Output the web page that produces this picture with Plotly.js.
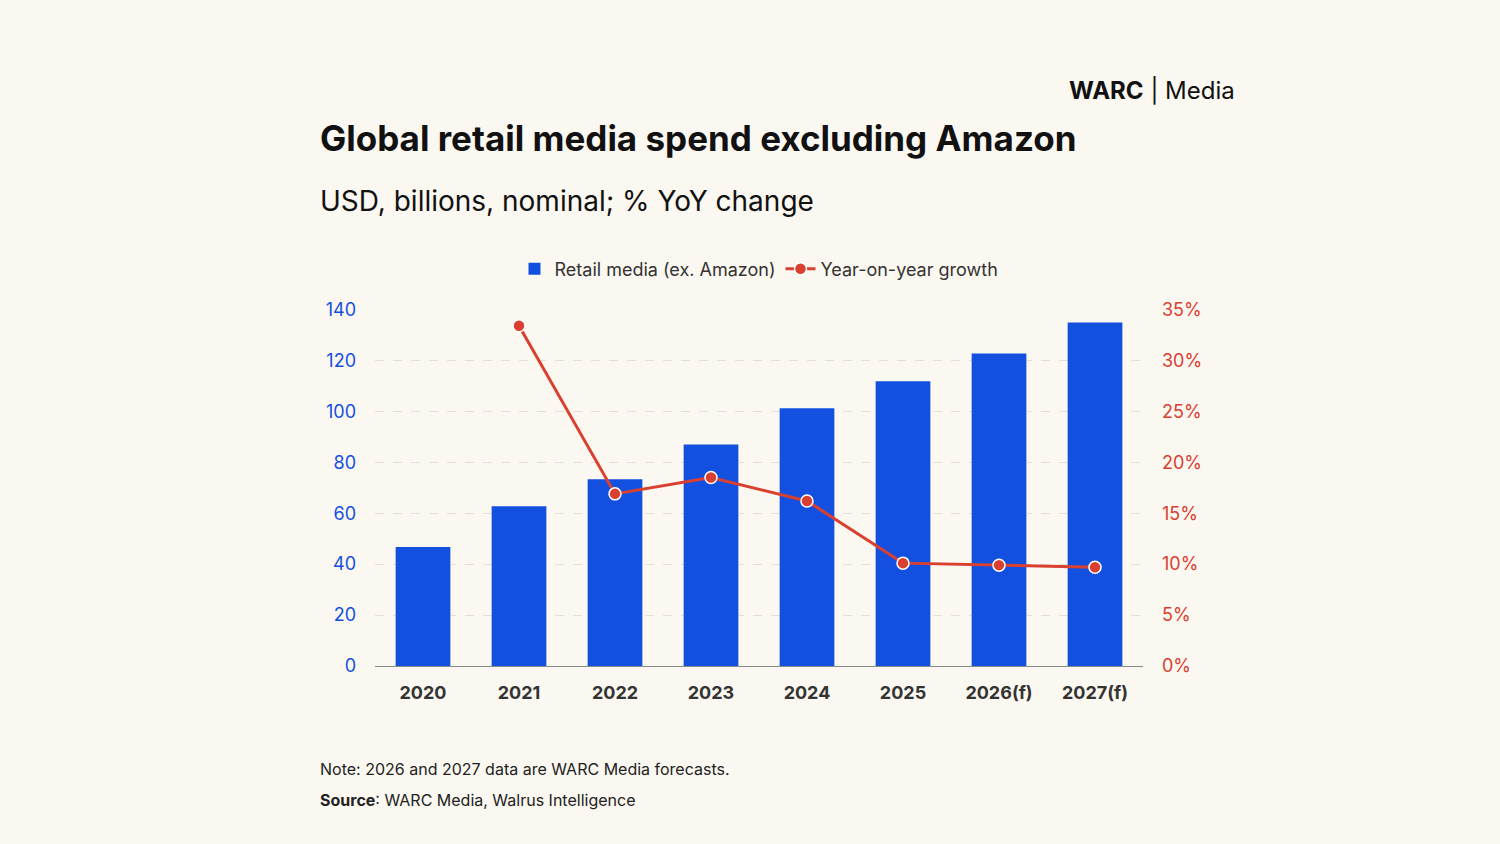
<!DOCTYPE html>
<html>
<head>
<script src="https://cdn.plot.ly/plotly-3.0.1.min.js"></script>
<style>body{margin:0;background:#fbf8f1;}</style>
</head>
<body>
<div id="myPlot" style="width:1500px;height:844px;"></div>
<script>
var years = ['2020', '2021', '2022', '2023', '2024', '2025', '2026(f)', '2027(f)'];
var spend = [46.7, 62.7, 73.3, 87, 101.2, 111.8, 122.7, 134.9];
var growthYears = ['2021', '2022', '2023', '2024', '2025', '2026(f)', '2027(f)'];
var growth = [33.4, 16.9, 18.5, 16.2, 10.1, 9.9, 9.7];
var pctTicks = [0, 5, 10, 15, 20, 25, 30, 35];
var pctLabels = ['0%', '5%', '10%', '15%', '20%', '25%', '30%', '35%'];

var fnt = 'Inter, "Noto Sans", sans-serif';
var blue = '#1450e0';
var red = '#d9402f';

var trace1 = {
    x: years, y: spend, type: 'bar', name: 'Retail media (ex. Amazon)',
    marker: { color: blue }
};
var trace2 = {
    x: growthYears, y: growth, type: 'scatter', mode: 'lines+markers',
    name: 'Year-on-year growth', yaxis: 'y2',
    line: { color: red, width: 3 },
    marker: { color: red, size: 12, line: { color: 'white', width: 1.5 } }
};

var layout = {
    paper_bgcolor: '#fbf8f1', plot_bgcolor: '#fbf8f1',
    font: { family: fnt },
    margin: { l: 375, r: 357, t: 309, b: 178 },
    showlegend: true,
    legend: { orientation: 'h', x: 0.5, xanchor: 'center', y: 1.06, yanchor: 'bottom',
        font: { size: 18, color: '#333' }, bgcolor: 'rgba(0,0,0,0)' },
    bargap: 0.43,
    xaxis: { type: 'category', categoryorder: 'array', categoryarray: years,
        tickfont: { size: 18, color: '#333', family: fnt, weight: 'bold' },
        showline: true, linecolor: '#888', ticks: '', showgrid: false, ticklabelstandoff: 10 },
    yaxis: { range: [0, 140.2], tickvals: [0, 20, 40, 60, 80, 100, 120, 140], tickfont: { size: 18, color: blue },
        gridcolor: '#e4e0d8', griddash: 'dash', zeroline: false, ticklen: 0, ticklabelstandoff: 18 },
    yaxis2: { range: [0, 35.05], tickvals: pctTicks, ticktext: pctLabels, overlaying: 'y', side: 'right',
        tickfont: { size: 18, color: red }, showgrid: false, zeroline: false, ticklabelstandoff: 18 }
};
layout.annotations = [
    { text: '<b>WARC</b> | Media', xref: 'paper', yref: 'paper', x: 1.122, y: 1.659, xanchor: 'right', showarrow: false, font: { size: 24, color: '#111' } },
    { text: '<b>Global retail media spend excluding Amazon</b>', xref: 'paper', yref: 'paper', x: -0.074, y: 1.544, xanchor: 'left', showarrow: false, font: { size: 35, color: '#111' } },
    { text: 'USD, billions, nominal; % YoY change', xref: 'paper', yref: 'paper', x: -0.074, y: 1.355, xanchor: 'left', showarrow: false, font: { size: 28, color: '#111' } },
    { text: 'Note: 2026 and 2027 data are WARC Media forecasts.', xref: 'paper', yref: 'paper', x: -0.074, y: -0.321, xanchor: 'left', showarrow: false, font: { size: 16, color: '#222' } },
    { text: '<b>Source</b>: WARC Media, Walrus Intelligence', xref: 'paper', yref: 'paper', x: -0.074, y: -0.409, xanchor: 'left', showarrow: false, font: { size: 16, color: '#222' } }
];

Plotly.newPlot('myPlot', [trace1, trace2], layout, { displayModeBar: false });
</script>
</body>
</html>
